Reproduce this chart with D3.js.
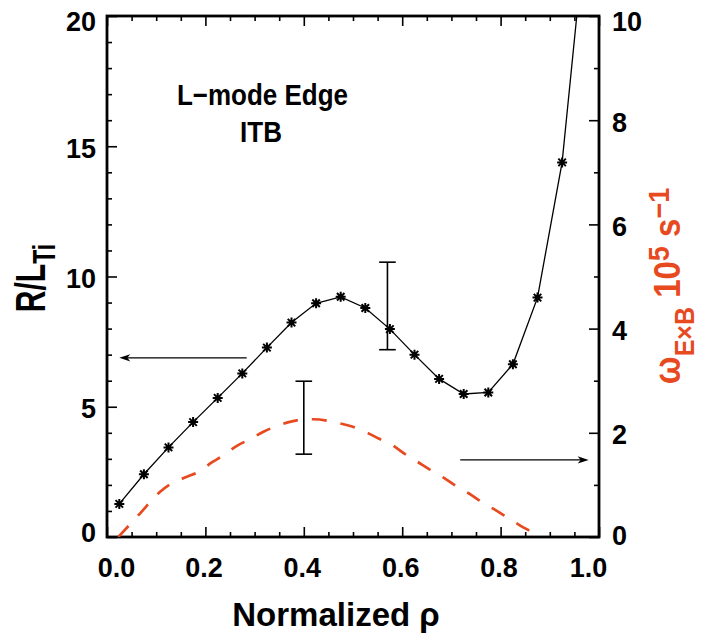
<!DOCTYPE html>
<html><head><meta charset="utf-8">
<script src="https://cdn.jsdelivr.net/npm/d3@7"></script>
<style>
body{margin:0;background:#fff}
svg{display:block}
text{font-family:"Liberation Sans",Arial,Helvetica,sans-serif;font-weight:bold}
</style>
</head><body>
<svg id="chart" width="705" height="637"></svg>
<script>
// ---------- data ----------
const rho = [0.025,0.075,0.125,0.175,0.225,0.275,0.325,0.375,0.425,0.475,0.525,0.575,0.625,0.675,0.725,0.775,0.825,0.875,0.925,0.975];
const rOverLTi = [1.27,2.41,3.44,4.41,5.34,6.28,7.27,8.23,8.97,9.22,8.79,7.98,7.00,6.07,5.49,5.55,6.63,9.19,14.38,23.8];

const rhoExB = [0.023,0.067,0.108,0.128,0.161,0.186,0.213,0.237,0.264,0.291,0.318,0.345,0.376,0.403,0.420,0.464,0.498,0.525,0.552,0.579,0.606,0.630,0.657,0.684,0.711,0.735,0.762,0.789,0.816,0.840,0.867,0.877];
const omegaExB = [0.00,0.45,0.87,1.01,1.15,1.25,1.43,1.57,1.75,1.88,2.02,2.13,2.22,2.26,2.26,2.20,2.12,2.02,1.89,1.77,1.59,1.45,1.29,1.14,0.97,0.84,0.67,0.52,0.36,0.22,0.07,0.00];

const errX = [0.57, 0.40];
const errLo = [7.19, 1.59];
const errHi = [10.55, 2.99];
const errAxis = ["left", "right"];

const arrowFrom = [0.284, 0.718];
const arrowTo = [0.025, 0.979];
const arrowY = [6.88, 1.48];
const arrowAxis = ["left", "right"];

const xMajor = [0, 0.2, 0.4, 0.6, 0.8, 1.0];
const xLabels = ["0.0", "0.2", "0.4", "0.6", "0.8", "1.0"];
const xMinor = [0.05,0.1,0.15,0.25,0.3,0.35,0.45,0.5,0.55,0.65,0.7,0.75,0.85,0.9,0.95];
const yLeftMajor = [0, 5, 10, 15, 20];
const yLeftLabels = ["0", "5", "10", "15", "20"];
const yLeftMinor = [1,2,3,4,6,7,8,9,11,12,13,14,16,17,18,19];
const yRightMajor = [0, 2, 4, 6, 8, 10];
const yRightLabels = ["0", "2", "4", "6", "8", "10"];
const yRightMinor = [1,3,5,7,9];

// ---------- layout ----------
const W = 705, H = 637;
const L = 107, R = 599, T = 16, B = 537;
const RED = "#e84a1f";

const svg = d3.select("#chart");
const x = d3.scaleLinear().domain([0, 1]).range([L, R]);
const yL = d3.scaleLinear().domain([0, 20]).range([B, T]);
const yR = d3.scaleLinear().domain([0, 10]).range([B, T]);

svg.append("defs").append("clipPath").attr("id", "plotclip")
  .append("rect").attr("x", L).attr("y", T).attr("width", R - L).attr("height", B - T);

// ---------- axes (ticks inward) ----------
function addAxis(gen, tx, ty, vals, size, fmt, pad, cls) {
  const g = svg.append("g").attr("class", cls).attr("transform", `translate(${tx},${ty})`)
    .call(gen.tickValues(vals).tickSize(size).tickPadding(pad).tickFormat(fmt));
  g.select(".domain").remove();
  g.selectAll(".tick line").attr("stroke", "#000").attr("stroke-width", 1.6);
  g.selectAll("text").attr("fill", "#000").style("font-size", "27px");
  return g;
}
// minor
addAxis(d3.axisBottom(x), 0, B, xMinor, -5, () => "", 0, "xminB");
addAxis(d3.axisTop(x), 0, T, xMinor, -5, () => "", 0, "xminT");
addAxis(d3.axisLeft(yL), L, 0, yLeftMinor, -5, () => "", 0, "ylmin");
addAxis(d3.axisRight(yR), R, 0, yRightMinor, -5, () => "", 0, "yrmin");
// major
const gxb = addAxis(d3.axisBottom(x), 0, B, xMajor, -10, (d, i) => xLabels[i], 21, "xmajB");
addAxis(d3.axisTop(x), 0, T, xMajor, -10, () => "", 0, "xmajT");
const gyl = addAxis(d3.axisLeft(yL), L, 0, yLeftMajor, -10, (d, i) => yLeftLabels[i], 11, "ylmaj");
const gyr = addAxis(d3.axisRight(yR), R, 0, yRightMajor, -10, (d, i) => yRightLabels[i], 13, "yrmaj");

// nudge end labels inward like the original
gxb.selectAll("text").attr("dx", d => d === 0 ? 9 : (d === 1 ? -11 : -2));
gyl.selectAll("text").attr("dy", d => d === 20 ? "0.55em" : (d === 0 ? "0.18em" : "0.4em"));
gyr.selectAll("text").attr("dy", d => d === 10 ? "0.55em" : (d === 0 ? "0.28em" : "0.4em"));

// frame
svg.append("rect").attr("x", L).attr("y", T).attr("width", R - L).attr("height", B - T)
  .attr("fill", "none").attr("stroke", "#000").attr("stroke-width", 2.8);

// ---------- data ----------
const plot = svg.append("g").attr("clip-path", "url(#plotclip)");

// omega ExB dashed curve
plot.append("path")
  .attr("d", d3.line().x((d, i) => x(rhoExB[i])).y(d => yR(d)).curve(d3.curveMonotoneX)(omegaExB))
  .attr("fill", "none").attr("stroke", RED).attr("stroke-width", 2.7)
  .attr("stroke-dasharray", "15,14");

// R/LTi line
plot.append("path")
  .attr("d", d3.line().x((d, i) => x(rho[i])).y(d => yL(d))(rOverLTi))
  .attr("fill", "none").attr("stroke", "#000").attr("stroke-width", 1.3);

// star markers
function starPath(cx, cy, r) {
  const p = d3.path();
  const k = r * 0.75;
  p.moveTo(cx - r, cy); p.lineTo(cx + r, cy);
  p.moveTo(cx, cy - r); p.lineTo(cx, cy + r);
  p.moveTo(cx - k, cy - k); p.lineTo(cx + k, cy + k);
  p.moveTo(cx - k, cy + k); p.lineTo(cx + k, cy - k);
  return p.toString();
}
plot.selectAll("path.star").data(rOverLTi).join("path").attr("class", "star")
  .attr("d", (d, i) => starPath(x(rho[i]), yL(d), 5))
  .attr("stroke", "#000").attr("stroke-width", 2).attr("fill", "none");

// error bars
errX.forEach((ex, i) => {
  const ys = errAxis[i] === "left" ? yL : yR;
  const g = svg.append("g").attr("stroke", "#000").attr("stroke-width", 1.6);
  const cx = x(ex), cap = 8.3;
  g.append("line").attr("x1", cx).attr("x2", cx).attr("y1", ys(errLo[i])).attr("y2", ys(errHi[i]));
  g.append("line").attr("x1", cx - cap).attr("x2", cx + cap).attr("y1", ys(errLo[i])).attr("y2", ys(errLo[i]));
  g.append("line").attr("x1", cx - cap).attr("x2", cx + cap).attr("y1", ys(errHi[i])).attr("y2", ys(errHi[i]));
});

// arrows
arrowFrom.forEach((ax, i) => {
  const ys = arrowAxis[i] === "left" ? yL : yR;
  const yy = ys(arrowY[i]);
  const x0 = x(ax), x1 = x(arrowTo[i]);
  const dir = Math.sign(x1 - x0);
  svg.append("line").attr("x1", x0).attr("x2", x1 - dir * 6).attr("y1", yy).attr("y2", yy)
    .attr("stroke", "#000").attr("stroke-width", 1.3);
  svg.append("path")
    .attr("d", `M${x1},${yy} L${x1 - dir * 11},${yy - 3.6} L${x1 - dir * 8},${yy} L${x1 - dir * 11},${yy + 3.6} Z`)
    .attr("fill", "#000");
});

// ---------- text ----------
svg.append("text").attr("transform", "translate(262.5,105) scale(1,1.15)")
  .attr("text-anchor", "middle").style("font-size", "26px").text("L\u2212mode Edge");
svg.append("text").attr("transform", "translate(261,141.5) scale(1,1.15)")
  .attr("text-anchor", "middle").style("font-size", "26px").text("ITB");

// x title
svg.append("text").attr("x", 336).attr("y", 626).attr("text-anchor", "middle")
  .style("font-size", "33px").text("Normalized \u03c1");

// left title
const lt = svg.append("text").attr("transform", "translate(45,278) rotate(-90) scale(1,1.4)")
  .attr("text-anchor", "middle").style("font-size", "30px");
lt.append("tspan").text("R/L");
lt.append("tspan").attr("dy", 7).style("font-size", "23px").text("Ti");

// right title
const rt = svg.append("text").attr("transform", "translate(680,286) rotate(-90) scale(1,1.1)")
  .attr("text-anchor", "middle").attr("fill", RED).style("font-size", "33px");
rt.append("tspan").text("\u03c9");
rt.append("tspan").attr("dy", 13).style("font-size", "25px").text("E\u00d7B");
rt.append("tspan").attr("dy", -13).text(" 10");
rt.append("tspan").attr("dy", -10).style("font-size", "27px").text("5");
rt.append("tspan").attr("dy", 10).text(" s");
rt.append("tspan").attr("dy", -10).style("font-size", "27px").text("\u22121");
</script>
</body></html>
